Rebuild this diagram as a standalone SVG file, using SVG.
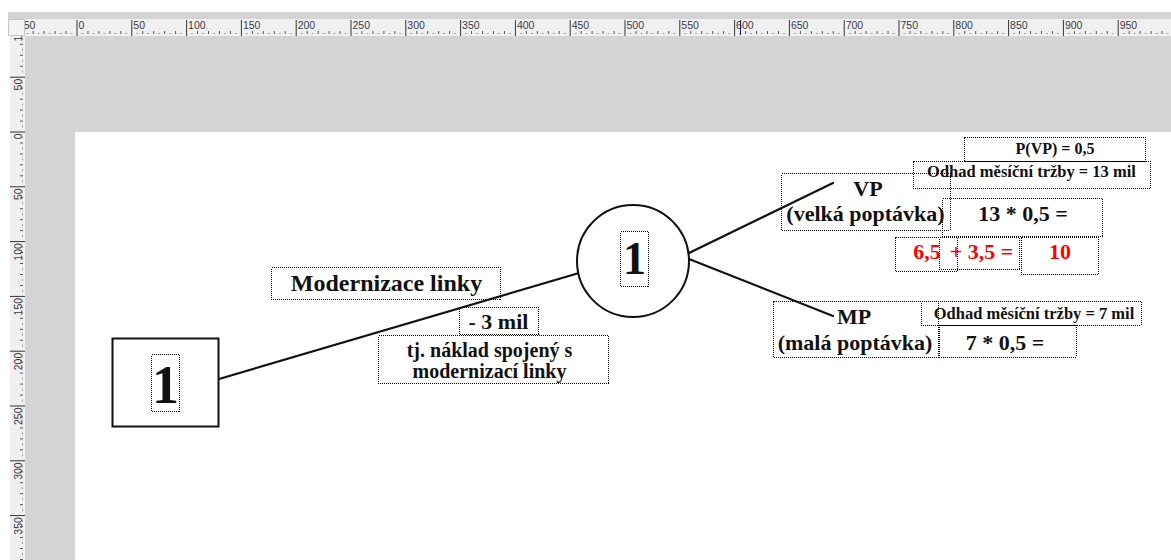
<svg xmlns="http://www.w3.org/2000/svg" width="1171" height="560" viewBox="0 0 1171 560">
  <style>
    .lbl { font-family: "Liberation Serif", "Times New Roman", serif; font-weight: bold; fill: #111; }
    .red { fill: #ff0000; }
    .box { fill: none; stroke: #000; stroke-width: 1; stroke-dasharray: 1 1; shape-rendering: crispEdges; }
    .shape { fill: #fff; stroke: #111; stroke-width: 2; }
    .edge { stroke: #111; stroke-width: 2.2; fill: none; stroke-linecap: round; }
    .rule { font-family: "Liberation Sans", Arial, sans-serif; font-size: 10.5px; fill: #3a3a48; }
  </style>
  <defs>
    <!-- ruler scale: 50 units = 54.8 px, minor marks every 5 units -->
    <pattern id="hticks" patternUnits="userSpaceOnUse" x="76.5" y="19" width="54.8" height="17">
      <rect x="0" y="1" width="1" height="16" fill="#333"/>
      <rect x="5.48" y="14" width="1" height="1" fill="#555"/>
      <rect x="10.96" y="12" width="1" height="3" fill="#555"/>
      <rect x="16.44" y="14" width="1" height="1" fill="#555"/>
      <rect x="21.92" y="12" width="1" height="3" fill="#555"/>
      <rect x="27.4" y="14" width="1" height="1" fill="#555"/>
      <rect x="32.88" y="12" width="1" height="3" fill="#555"/>
      <rect x="38.36" y="14" width="1" height="1" fill="#555"/>
      <rect x="43.84" y="12" width="1" height="3" fill="#555"/>
      <rect x="49.32" y="14" width="1" height="1" fill="#555"/>
    </pattern>
    <pattern id="vticks" patternUnits="userSpaceOnUse" x="10" y="131.5" width="15" height="54.8">
      <rect x="0" y="0" width="15" height="1" fill="#333"/>
      <rect x="12" y="5.48" width="1" height="1" fill="#555"/>
      <rect x="10" y="10.96" width="3" height="1" fill="#555"/>
      <rect x="12" y="16.44" width="1" height="1" fill="#555"/>
      <rect x="10" y="21.92" width="3" height="1" fill="#555"/>
      <rect x="12" y="27.4" width="1" height="1" fill="#555"/>
      <rect x="10" y="32.88" width="3" height="1" fill="#555"/>
      <rect x="12" y="38.36" width="1" height="1" fill="#555"/>
      <rect x="10" y="43.84" width="3" height="1" fill="#555"/>
      <rect x="12" y="49.32" width="1" height="1" fill="#555"/>
    </pattern>
  </defs>

  <!-- editor background -->
  <rect x="0" y="0" width="1171" height="560" fill="#ffffff"/>
  <rect x="8" y="12" width="1163" height="548" fill="#d4d4d4"/>
  <rect x="0" y="36" width="10" height="524" fill="#ffffff"/>

  <!-- page -->
  <rect x="75" y="132" width="1096" height="428" fill="#ffffff"/>

  <!-- vertical ruler -->
  <g id="ruler-v">
    <rect x="10" y="36" width="15" height="524" fill="#f0f0f0"/>
    <rect x="10" y="36" width="15" height="524" fill="url(#vticks)"/>
    <g class="rule">
      <text transform="translate(21.5 24) rotate(-90)" text-anchor="end">100</text>
      <text transform="translate(21.5 78.7) rotate(-90)" text-anchor="end">50</text>
      <text transform="translate(21.5 133.5) rotate(-90)" text-anchor="end">0</text>
      <text transform="translate(21.5 188.3) rotate(-90)" text-anchor="end">50</text>
      <text transform="translate(21.5 243.1) rotate(-90)" text-anchor="end">100</text>
      <text transform="translate(21.5 297.9) rotate(-90)" text-anchor="end">150</text>
      <text transform="translate(21.5 352.7) rotate(-90)" text-anchor="end">200</text>
      <text transform="translate(21.5 407.5) rotate(-90)" text-anchor="end">250</text>
      <text transform="translate(21.5 462.3) rotate(-90)" text-anchor="end">300</text>
      <text transform="translate(21.5 517.1) rotate(-90)" text-anchor="end">350</text>
    </g>
  </g>

  <!-- horizontal ruler -->
  <g id="ruler-h">
    <rect x="25" y="19" width="1146" height="17" fill="#f0f0f0"/>
    <rect x="25" y="19" width="1146" height="17" fill="url(#hticks)"/>
    <g class="rule">
      <text x="23.7" y="29">50</text>
      <text x="78.5" y="29">0</text>
      <text x="133.3" y="29">50</text>
      <text x="188.1" y="29">100</text>
      <text x="242.9" y="29">150</text>
      <text x="297.7" y="29">200</text>
      <text x="352.5" y="29">250</text>
      <text x="407.3" y="29">300</text>
      <text x="462.1" y="29">350</text>
      <text x="516.9" y="29">400</text>
      <text x="571.7" y="29">450</text>
      <text x="626.5" y="29">500</text>
      <text x="681.3" y="29">550</text>
      <text x="736.1" y="29">600</text>
      <text x="790.9" y="29">650</text>
      <text x="845.7" y="29">700</text>
      <text x="900.5" y="29">750</text>
      <text x="955.3" y="29">800</text>
      <text x="1010.1" y="29">850</text>
      <text x="1064.9" y="29">900</text>
      <text x="1119.7" y="29">950</text>
    </g>
    <rect x="740" y="20" width="1" height="15" fill="#1a1a60"/>
  </g>

  <!-- ruler corner -->
  <rect x="8.5" y="19.5" width="16" height="16" fill="#f4f4f4" stroke="#c8c8c8" stroke-width="1"/>

  <!-- connectors -->
  <g id="connectors">
    <line class="edge" x1="219" y1="379" x2="579" y2="273"/>
    <line class="edge" x1="689" y1="253" x2="833" y2="183"/>
    <line class="edge" x1="689" y1="259" x2="833" y2="316"/>
  </g>

  <!-- decision node -->
  <g id="decision">
    <rect class="shape" x="112.5" y="338.5" width="106" height="88"/>
    <rect class="box" x="151.5" y="354.5" width="28" height="57"/>
    <text class="lbl" x="165.5" y="403" font-size="54" text-anchor="middle">1</text>
  </g>

  <!-- chance node -->
  <g id="chance">
    <circle class="shape" cx="633" cy="261" r="56"/>
    <rect class="box" x="620.5" y="231.5" width="28" height="55"/>
    <text class="lbl" x="634.5" y="273.5" font-size="46" text-anchor="middle">1</text>
  </g>

  <!-- branch: modernisation -->
  <g id="branch-modernizace">
    <rect class="box" x="271.5" y="267.5" width="229" height="32"/>
    <text class="lbl" x="386.5" y="291" font-size="24" text-anchor="middle">Modernizace linky</text>
  </g>
  <g id="cost">
    <rect class="box" x="459.5" y="307.5" width="79" height="27"/>
    <text class="lbl" x="498.5" y="328.5" font-size="22" text-anchor="middle">- 3 mil</text>
  </g>
  <g id="cost-note">
    <rect class="box" x="378.5" y="335.5" width="230" height="48"/>
    <text class="lbl" x="489.5" y="356.5" font-size="20" text-anchor="middle">tj. náklad spojený s</text>
    <text class="lbl" x="489.5" y="377.5" font-size="20" text-anchor="middle">modernizací linky</text>
  </g>

  <!-- outcome: high demand -->
  <g id="vp">
    <rect class="box" x="781.5" y="173.5" width="168.5" height="56.5"/>
    <text class="lbl" x="868" y="195.5" font-size="22" text-anchor="middle">VP</text>
    <text class="lbl" x="865.5" y="221" font-size="22" text-anchor="middle">(velká poptávka)</text>
  </g>
  <g id="p-vp">
    <rect class="box" x="964.5" y="137.5" width="180.5" height="24"/>
    <text class="lbl" x="1055" y="153.5" font-size="16" text-anchor="middle">P(VP) = 0,5</text>
  </g>
  <g id="trzby-vp">
    <rect class="box" x="913.5" y="161.5" width="236.5" height="27"/>
    <text class="lbl" x="1031.5" y="177" font-size="16.5" text-anchor="middle">Odhad měsíční tržby = 13 mil</text>
  </g>
  <g id="calc-vp">
    <rect class="box" x="942.5" y="198.5" width="160" height="38"/>
    <text class="lbl" x="1023" y="221" font-size="22" text-anchor="middle">13 * 0,5 =</text>
  </g>
  <g id="sum-a">
    <rect class="box" x="895.5" y="237.5" width="61.5" height="34"/>
    <text class="lbl red" x="927" y="258.5" font-size="22" text-anchor="middle">6,5</text>
  </g>
  <g id="sum-b">
    <rect class="box" x="939.5" y="237.5" width="80" height="32"/>
    <text class="lbl red" x="981.5" y="258.5" font-size="22" text-anchor="middle">+ 3,5 =</text>
  </g>
  <g id="sum-result">
    <rect class="box" x="1021.5" y="237.5" width="77" height="36.5"/>
    <text class="lbl red" x="1060" y="258.5" font-size="22" text-anchor="middle">10</text>
  </g>

  <!-- outcome: low demand -->
  <g id="mp">
    <rect class="box" x="773.5" y="301.5" width="165" height="55.5"/>
    <text class="lbl" x="854" y="323.5" font-size="22" text-anchor="middle">MP</text>
    <text class="lbl" x="855" y="349.5" font-size="22" text-anchor="middle">(malá poptávka)</text>
  </g>
  <g id="trzby-mp">
    <rect class="box" x="921.5" y="301.5" width="219.5" height="23.5"/>
    <text class="lbl" x="1034" y="318.5" font-size="16.5" text-anchor="middle">Odhad měsíční tržby = 7 mil</text>
  </g>
  <g id="calc-mp">
    <rect class="box" x="939.5" y="325.5" width="136.5" height="31.5"/>
    <text class="lbl" x="1005" y="350" font-size="22" text-anchor="middle">7 * 0,5 =</text>
  </g>
</svg>
